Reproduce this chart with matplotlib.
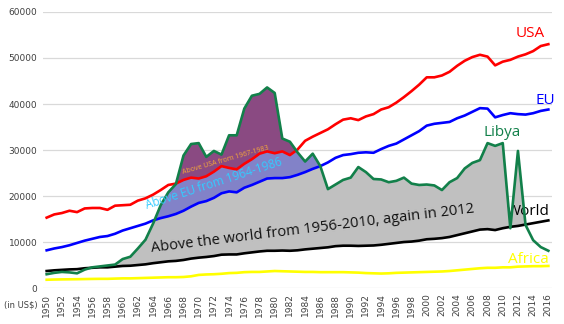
import numpy as np
import matplotlib.pyplot as plt

# GDP per capita, 1950-2016 (in US$)
years = np.arange(1950, 2017)

usa = [15300, 16000, 16300, 16800, 16500, 17300, 17400, 17400, 17000, 17900,
       18000, 18100, 19000, 19500, 20300, 21300, 22400, 22700, 23500, 24000,
       23800, 24300, 25300, 26500, 26100, 25800, 27000, 28000, 29200, 29700,
       29300, 29700, 28900, 30100, 32000, 32900, 33700, 34500, 35600, 36600,
       36900, 36500, 37300, 37800, 38800, 39300, 40300, 41500, 42800, 44200,
       45800, 45800, 46200, 47000, 48300, 49400, 50200, 50700, 50300, 48400,
       49200, 49600, 50300, 50800, 51500, 52600, 53000]

eu = [8200, 8600, 8900, 9300, 9800, 10300, 10700, 11100, 11300, 11800,
      12500, 13000, 13500, 14000, 14700, 15200, 15600, 16100, 16800, 17700,
      18500, 18900, 19600, 20600, 21000, 20800, 21800, 22400, 23100, 23800,
      23900, 23900, 24100, 24600, 25200, 25900, 26500, 27300, 28300, 28900,
      29100, 29400, 29500, 29400, 30200, 30900, 31400, 32300, 33200, 34100,
      35300, 35700, 35900, 36100, 36900, 37500, 38300, 39100, 39000, 37100,
      37600, 38000, 37800, 37700, 38000, 38500, 38800]

libya = [3000, 3300, 3500, 3400, 3200, 4000, 4500, 4700, 4900, 5100,
         6300, 6800, 8600, 10500, 14000, 18000, 20800, 22600, 28800, 31300,
         31500, 28500, 29800, 29000, 33200, 33200, 39000, 41800, 42200, 43600,
         42400, 32500, 31800, 29500, 27500, 29200, 26500, 21500, 22500, 23500,
         24000, 26300, 25200, 23700, 23600, 23000, 23300, 24000, 22700, 22400,
         22500, 22300, 21300, 23000, 23900, 26000, 27200, 27800, 31500, 30900,
         31500, 13000, 29800, 13700, 10400, 8900, 8100]

world = [3700, 3850, 3950, 4050, 4100, 4300, 4400, 4500, 4500, 4650,
         4800, 4850, 5000, 5150, 5400, 5600, 5800, 5900, 6100, 6400,
         6600, 6750, 6950, 7250, 7300, 7300, 7550, 7750, 7950, 8100,
         8100, 8150, 8100, 8200, 8400, 8550, 8700, 8850, 9100, 9200,
         9200, 9150, 9200, 9250, 9400, 9600, 9800, 10000, 10100, 10300,
         10600, 10700, 10850, 11100, 11500, 11900, 12300, 12700, 12800, 12600,
         13000, 13300, 13500, 13800, 14100, 14400, 14700]

africa = [1800, 1850, 1880, 1900, 1920, 1950, 1980, 2000, 2000, 2050,
          2100, 2100, 2150, 2200, 2250, 2300, 2350, 2350, 2400, 2550,
          2850, 2950, 3000, 3100, 3250, 3300, 3450, 3500, 3500, 3600,
          3700, 3650, 3600, 3550, 3500, 3500, 3450, 3450, 3450, 3450,
          3400, 3350, 3250, 3200, 3150, 3200, 3300, 3350, 3400, 3450,
          3500, 3550, 3600, 3700, 3850, 4000, 4150, 4300, 4400, 4400,
          4500, 4500, 4650, 4700, 4750, 4750, 4800]

usa, eu, libya, world, africa = map(np.array, (usa, eu, libya, world, africa))

fig = plt.figure(figsize=(5.64, 3.24), dpi=100)
ax = fig.add_axes([0.076, 0.111, 0.903, 0.852])

# shaded areas where Libya is above each reference line
ax.fill_between(years, world, libya, where=libya >= world, interpolate=True,
                color='#c0c0c0', lw=0, zorder=1)
ax.fill_between(years, eu, libya, where=libya >= eu, interpolate=True,
                color='#8282c8', lw=0, zorder=1)
ax.fill_between(years, usa, libya, where=libya >= usa, interpolate=True,
                color='#8a4a82', lw=0, zorder=1)

lw = 1.9
ax.plot(years, africa, color='#ffff00', lw=lw, zorder=3)
ax.plot(years, world, color='black', lw=lw, zorder=3)
ax.plot(years, eu, color='#0000ff', lw=lw, zorder=3)
ax.plot(years, usa, color='#ff0000', lw=lw, zorder=3)
ax.plot(years, libya, color='#12804a', lw=lw, zorder=4)

lab_font = 'Open Sans'
ax.text(2013.6, 55300, 'USA', color='#ff0000', fontsize=11, family=lab_font, ha='center', va='center')
ax.text(2015.6, 40800, 'EU', color='#0000ff', fontsize=11, family=lab_font, ha='center', va='center')
ax.text(2009.9, 33800, 'Libya', color='#12804a', fontsize=11, family=lab_font, ha='center', va='center')
ax.text(2013.3, 16700, 'World', color='black', fontsize=11, family=lab_font, ha='center', va='center')
ax.text(2013.4, 6300, 'Africa', color='#ffff00', fontsize=11, family=lab_font, ha='center', va='center')

ax.text(1985.0, 12800, 'Above the world from 1956-2010, again in 2012', color='#111111',
        fontsize=10.6, family=lab_font, rotation=7, ha='center', va='center', zorder=5)
ax.text(1972.0, 22800, 'Above EU from 1964-1986', color='#33ccff',
        fontsize=8.5, family=lab_font, rotation=18, ha='center', va='center', zorder=5)
ax.text(1973.6, 27700, 'Above USA from 1967-1983', color='#f5a83a',
        fontsize=5, family=lab_font, rotation=16, ha='center', va='center', zorder=5)

ax.set_xlim(1949.5, 2016.5)
ax.set_ylim(0, 60000)
ax.set_xticks(years[::2])
ax.set_xticklabels([str(y) for y in years[::2]], rotation=90)
ax.set_yticks(range(0, 60001, 10000))
ax.tick_params(length=0, labelsize=6.5, labelcolor='#404040', pad=4)
ax.grid(axis='y', color='#d9d9d9', lw=0.9)
ax.set_axisbelow(True)
for s in ax.spines.values():
    s.set_visible(False)

fig.text(0.007, 0.058, '(in US$)', fontsize=6, color='#404040', va='center')

fig.savefig('out.png', dpi=100)
